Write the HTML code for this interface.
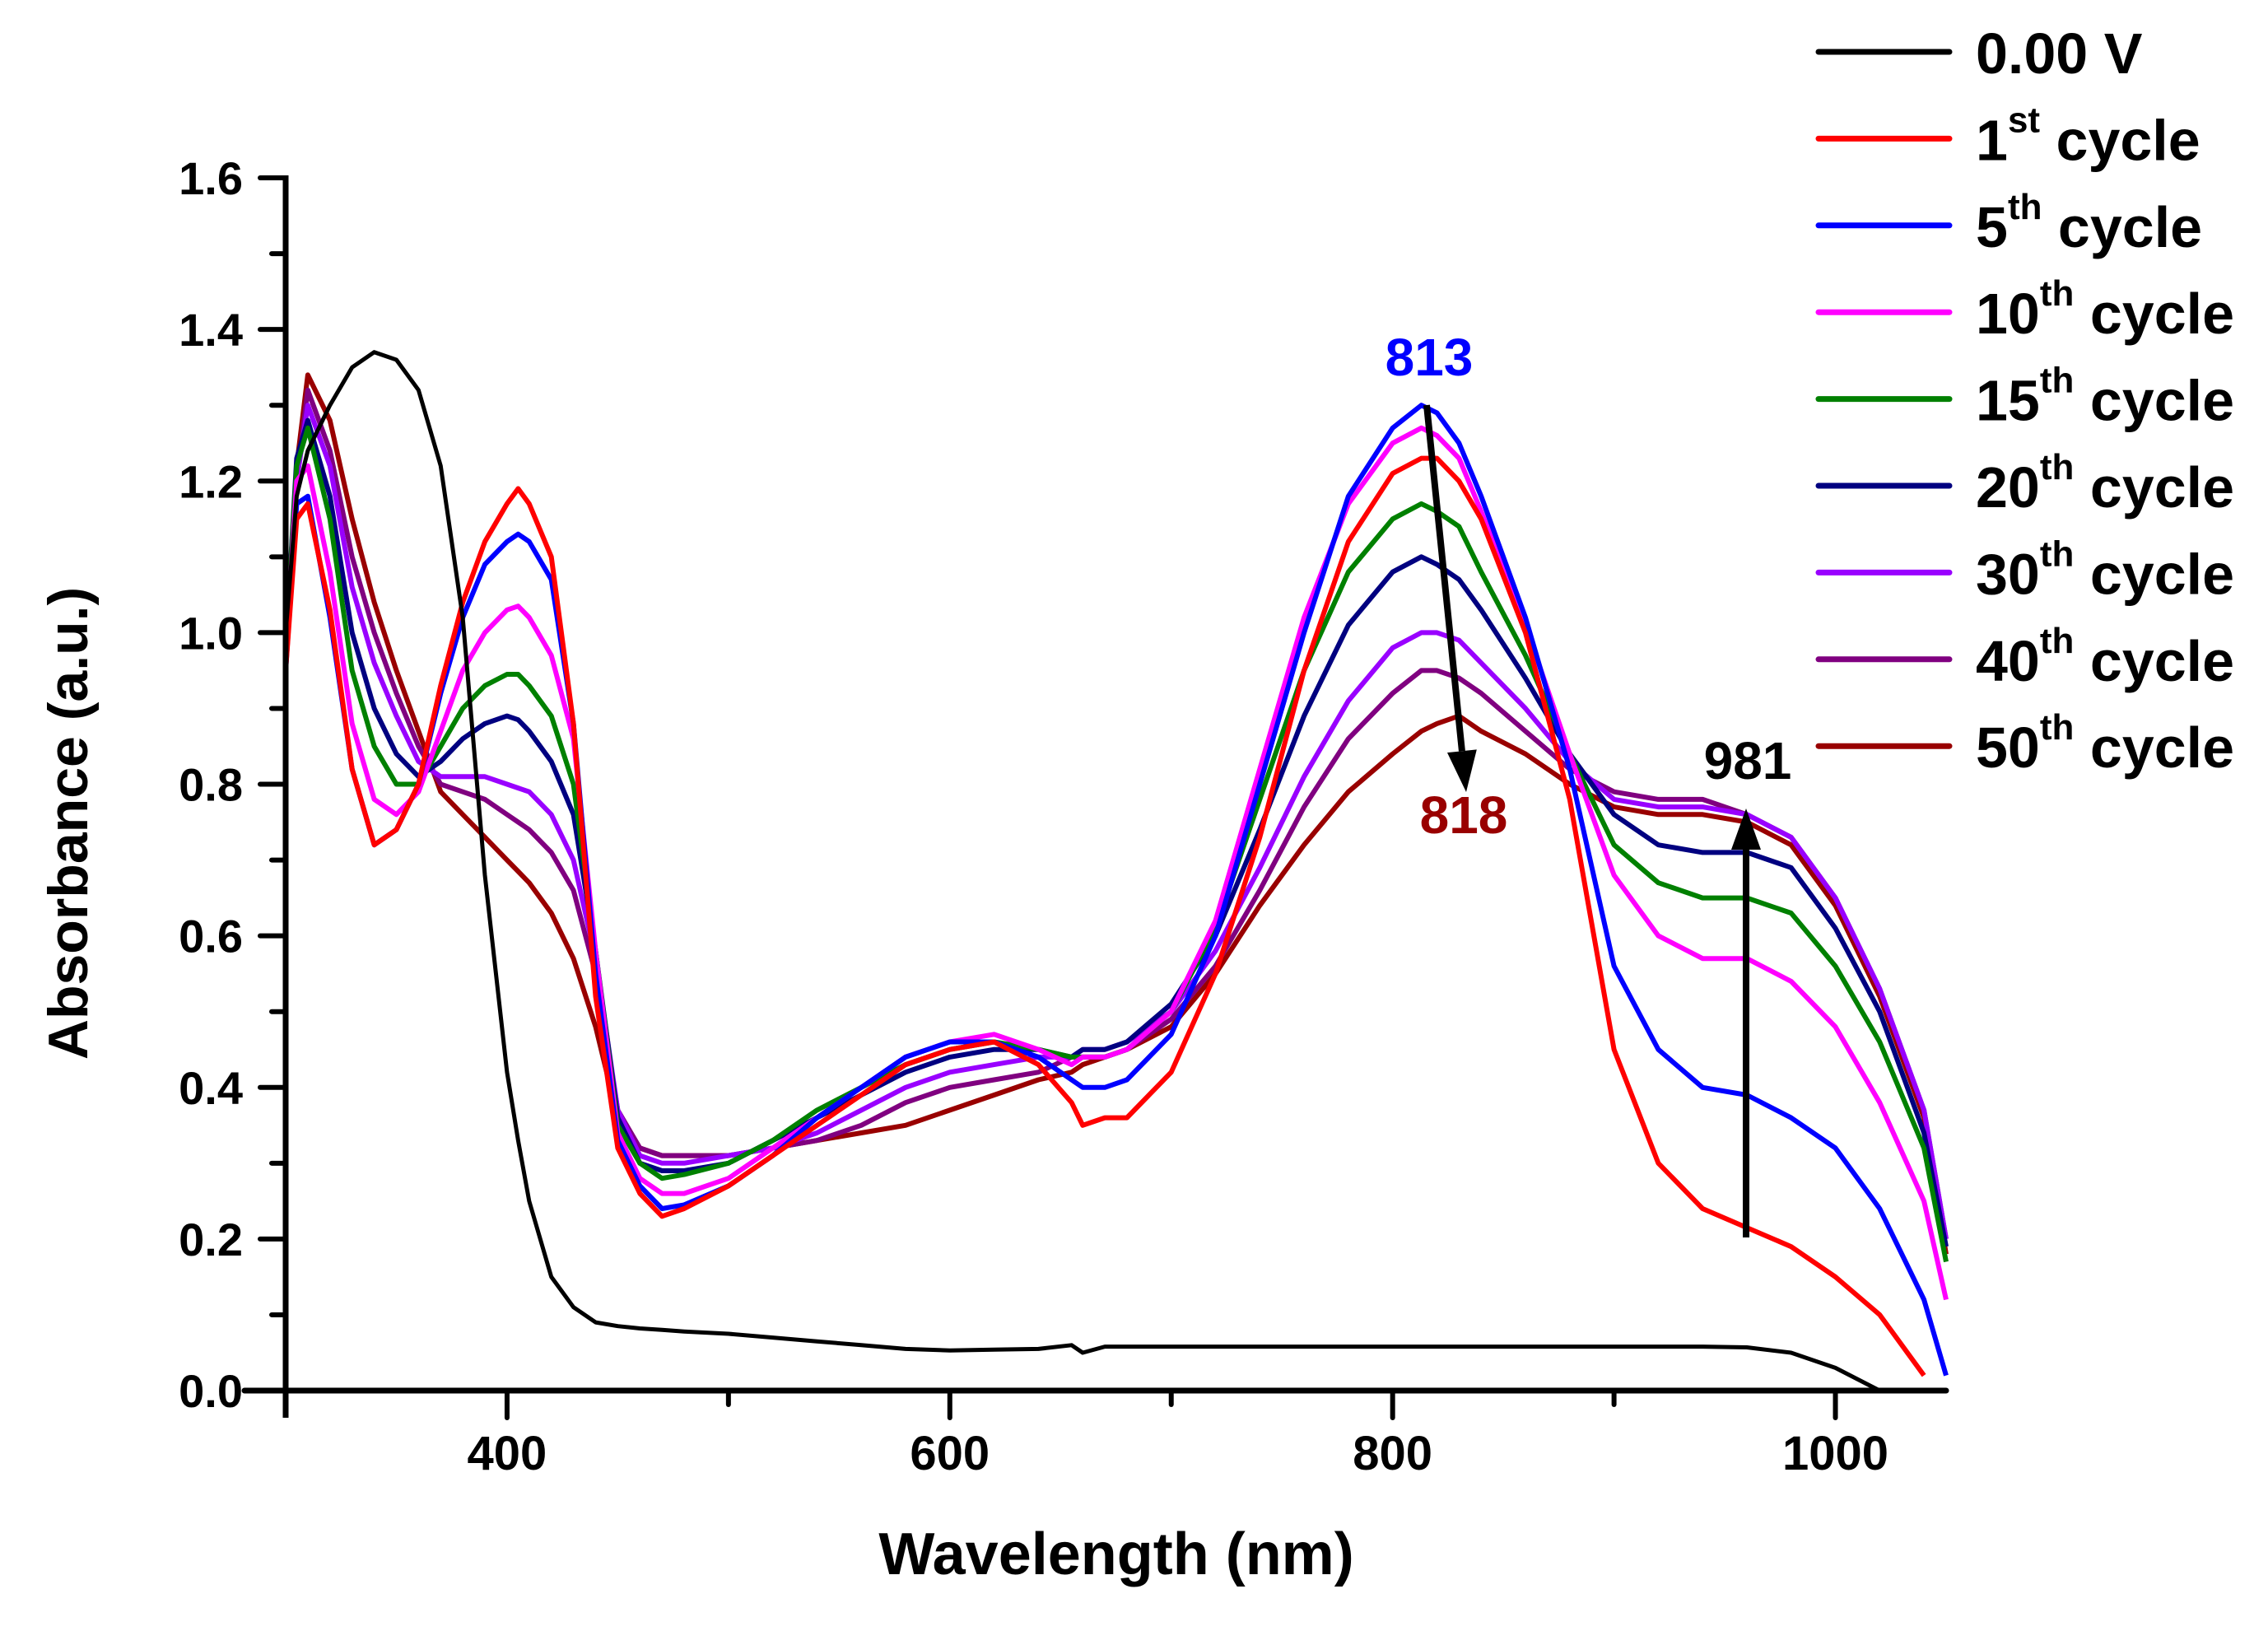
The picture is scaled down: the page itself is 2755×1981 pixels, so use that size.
<!DOCTYPE html>
<html><head><meta charset="utf-8"><style>
html,body{margin:0;padding:0;background:#fff}
svg{display:block;font-family:"Liberation Sans",Arial,sans-serif;font-weight:bold}
</style></head><body>
<svg id="chart" width="2755" height="1981" viewBox="0 0 2755 1981" xmlns="http://www.w3.org/2000/svg">
<g id="series"></g>
<g id="axes"></g>
<g id="legend"></g>
<g id="annot"></g>
</svg>
<script>
const wavelengths=[300,305,310,320,330,340,350,360,370,380,390,400,405,410,420,430,440,450,460,470,480,500,520,540,560,580,600,620,640,655,660,670,680,700,720,740,760,780,800,813,820,830,840,860,880,900,920,940,960,980,1000,1020,1040,1050];
const s0V=[1.0,1.18,1.24,1.3,1.35,1.37,1.36,1.32,1.22,1.02,0.68,0.42,0.33,0.25,0.15,0.11,0.09,0.085,0.082,0.08,0.078,0.075,0.07,0.065,0.06,0.055,0.053,0.054,0.055,0.06,0.05,0.058,0.058,0.058,0.058,0.058,0.058,0.058,0.058,0.058,0.058,0.058,0.058,0.058,0.058,0.058,0.058,0.058,0.057,0.05,0.03,0.0,null,null];
const s1=[0.95,1.15,1.17,1.03,0.82,0.72,0.74,0.80,0.93,1.04,1.12,1.17,1.19,1.17,1.10,0.88,0.52,0.32,0.26,0.23,0.24,0.27,0.31,0.35,0.39,0.43,0.45,0.46,0.43,0.38,0.35,0.36,0.36,0.42,0.55,0.73,0.95,1.12,1.21,1.23,1.23,1.20,1.15,1.00,0.78,0.45,0.30,0.24,0.215,0.19,0.15,0.10,0.02,null];
const s5=[0.95,1.17,1.18,1.02,0.82,0.72,0.74,0.80,0.92,1.02,1.09,1.12,1.13,1.12,1.07,0.88,0.55,0.33,0.27,0.24,0.245,0.27,0.31,0.36,0.40,0.44,0.46,0.46,0.44,0.41,0.40,0.40,0.41,0.47,0.60,0.80,1.00,1.18,1.27,1.30,1.29,1.25,1.18,1.02,0.82,0.56,0.45,0.40,0.39,0.36,0.32,0.24,0.12,0.02];
const s10=[0.97,1.2,1.22,1.08,0.88,0.78,0.76,0.79,0.87,0.95,1.00,1.03,1.035,1.02,0.97,0.86,0.58,0.34,0.28,0.26,0.26,0.28,0.32,0.36,0.40,0.44,0.46,0.47,0.45,0.43,0.44,0.44,0.45,0.50,0.62,0.82,1.02,1.17,1.25,1.27,1.26,1.23,1.16,1.01,0.84,0.68,0.60,0.57,0.57,0.54,0.48,0.38,0.25,0.12];
const s15=[0.98,1.22,1.27,1.15,0.95,0.85,0.80,0.80,0.85,0.90,0.93,0.945,0.945,0.93,0.89,0.80,0.58,0.35,0.30,0.28,0.285,0.30,0.33,0.37,0.40,0.43,0.45,0.46,0.45,0.44,0.44,0.44,0.45,0.50,0.61,0.78,0.95,1.08,1.15,1.17,1.16,1.14,1.08,0.97,0.84,0.72,0.67,0.65,0.65,0.63,0.56,0.46,0.32,0.17];
const s20=[0.98,1.23,1.28,1.18,1.0,0.90,0.84,0.81,0.83,0.86,0.88,0.89,0.885,0.87,0.83,0.76,0.58,0.36,0.30,0.29,0.29,0.30,0.33,0.36,0.39,0.42,0.44,0.45,0.45,0.44,0.45,0.45,0.46,0.51,0.60,0.74,0.89,1.01,1.08,1.10,1.09,1.07,1.03,0.94,0.84,0.76,0.72,0.71,0.71,0.69,0.61,0.50,0.34,0.19];
const s30=[0.98,1.2,1.30,1.22,1.06,0.96,0.89,0.83,0.81,0.81,0.81,0.80,0.795,0.79,0.76,0.70,0.57,0.37,0.31,0.30,0.30,0.31,0.32,0.34,0.37,0.40,0.42,0.43,0.44,0.44,0.45,0.45,0.46,0.50,0.58,0.69,0.81,0.91,0.98,1.00,1.00,0.99,0.96,0.90,0.83,0.78,0.77,0.77,0.76,0.73,0.65,0.53,0.37,0.20];
const s40=[0.98,1.2,1.32,1.24,1.10,1.00,0.92,0.85,0.80,0.79,0.78,0.76,0.75,0.74,0.71,0.66,0.55,0.37,0.32,0.31,0.31,0.31,0.32,0.33,0.35,0.38,0.40,0.41,0.42,0.44,0.44,0.44,0.45,0.49,0.56,0.66,0.77,0.86,0.92,0.95,0.95,0.94,0.92,0.87,0.82,0.79,0.78,0.78,0.76,0.73,0.65,0.53,0.37,0.20];
const s50=[0.98,1.22,1.34,1.28,1.15,1.04,0.95,0.87,0.79,0.76,0.73,0.70,0.685,0.67,0.63,0.57,0.48,0.36,0.32,0.31,0.31,0.31,0.32,0.33,0.34,0.35,0.37,0.39,0.41,0.42,0.43,0.44,0.45,0.48,0.55,0.64,0.72,0.79,0.84,0.87,0.88,0.89,0.87,0.84,0.80,0.77,0.76,0.76,0.75,0.72,0.64,0.52,0.36,0.18];
const seriesNames=["0.00 V","1st cycle","5th cycle","10th cycle","15th cycle","20th cycle","30th cycle","40th cycle","50th cycle"];
const seriesSup=["","st","th","th","th","th","th","th","th"];
const seriesLead=["0.00 V","1","5","10","15","20","30","40","50"];
const seriesColors=["#000000","#ff0000","#0000ff","#ff00ff","#008000","#000080","#9900ff","#800080","#990000"];
const seriesData=[s0V,s1,s5,s10,s15,s20,s30,s40,s50];
const yTicks=[0,0.2,0.4,0.6,0.8,1.0,1.2,1.4,1.6];
const xTicks=[400,600,800,1000];

const NS="http://www.w3.org/2000/svg";
const X0=347,X1=2364,XMIN=300,XMAX=1050,Y0=1689,YTOP=216,YMAX=1.6;
const xs=w=>X0+(w-XMIN)/(XMAX-XMIN)*(X1-X0);
const ys=v=>Y0-v/YMAX*(Y0-YTOP);
function mk(tag,attrs,parent){const e=document.createElementNS(NS,tag);for(const k in attrs)e.setAttribute(k,attrs[k]);parent.appendChild(e);return e;}

const sg=document.getElementById('series');
for(let i=seriesData.length-1;i>=0;i--){
  const pts=[];
  seriesData[i].forEach((v,j)=>{if(v!==null)pts.push(xs(wavelengths[j]).toFixed(1)+","+ys(Math.max(0,v)).toFixed(1));});
  const p=mk('polyline',{points:pts.join(' '),fill:'none',stroke:seriesColors[i],'stroke-width':i===0?5:6,'stroke-linejoin':'round'},sg);
  
  
}

const ax=document.getElementById('axes');
const yl=mk('line',{x1:X0,y1:YTOP-3,x2:X0,y2:Y0+33,stroke:'#000','stroke-width':7},ax);


const xl=mk('line',{x1:X0-50,y1:Y0,x2:X1,y2:Y0,stroke:'#000','stroke-width':7,'stroke-linecap':'round'},ax);


for(let k=0;k<=16;k++){
  const v=k/10, major=k%2===0;
  mk('line',{x1:X0-(major?31:17),y1:ys(v),x2:X0,y2:ys(v),stroke:'#000','stroke-width':6,'stroke-linecap':'round'},ax);
}
yTicks.forEach(v=>{
  const t=mk('text',{x:295,y:ys(v)+20,'text-anchor':'end','font-size':56},ax);
  t.textContent=v.toFixed(1);
  
  
});
for(let w=300;w<=1000;w+=100){
  const major=w%200===0;
  mk('line',{x1:xs(w),y1:Y0,x2:xs(w),y2:Y0+(major?33:17),stroke:'#000','stroke-width':6,'stroke-linecap':'round'},ax);
}
xTicks.forEach(w=>{
  const t=mk('text',{x:xs(w),y:1785,'text-anchor':'middle','font-size':58},ax);
  t.textContent=w;
  
  
});
const xt=mk('text',{x:1356,y:1912,'text-anchor':'middle','font-size':72},ax);
xt.textContent='Wavelength (nm)';


const yt=mk('text',{x:0,y:0,'text-anchor':'middle','font-size':68,transform:'translate(106,1000) rotate(-90)'},ax);
yt.textContent='Absorbance (a.u.)';



const lg=document.getElementById('legend');
seriesNames.forEach((n,i)=>{
  const y=63+i*105.4;
  const g=mk('g',{},lg);
  
  
  mk('line',{x1:2209,y1:y,x2:2368,y2:y,stroke:seriesColors[i],'stroke-width':7,'stroke-linecap':'round'},g);
  const t=mk('text',{x:2400,y:y+26,'font-size':70},g);
  t.appendChild(document.createTextNode(seriesLead[i]));
  if(seriesSup[i]){
    const s=mk('tspan',{'font-size':44,dy:-34},t);s.textContent=seriesSup[i];
    const c=mk('tspan',{dy:34},t);c.textContent=' cycle';
  }
});

const an=document.getElementById('annot');
function lab(txt,x,y,col,name){const t=mk('text',{x:x,y:y,'text-anchor':'middle','font-size':64,fill:col},an);t.textContent=txt;}
lab('813',1736,456,'#0000ff','peak-label-813');
lab('818',1778,1012,'#990000','peak-label-818');
lab('981',2123,946,'#000','peak-label-981');
function arrow(x1,y1,x2,y2,name){
  const g=mk('g',{},an);
  
  
  const dx=x2-x1,dy=y2-y1,L=Math.hypot(dx,dy),ux=dx/L,uy=dy/L,hl=50,hw=18;
  const bx=x2-ux*hl,by=y2-uy*hl;
  mk('line',{x1:x1,y1:y1,x2:bx,y2:by,stroke:'#000','stroke-width':8},g);
  mk('polygon',{points:`${x2},${y2} ${bx-uy*hw},${by+ux*hw} ${bx+uy*hw},${by-ux*hw}`,fill:'#000'},g);
}
arrow(1733,492,1781,962,'decrease-arrow');
arrow(2121,1503,2121,982,'increase-arrow');
</script>
</body></html>
